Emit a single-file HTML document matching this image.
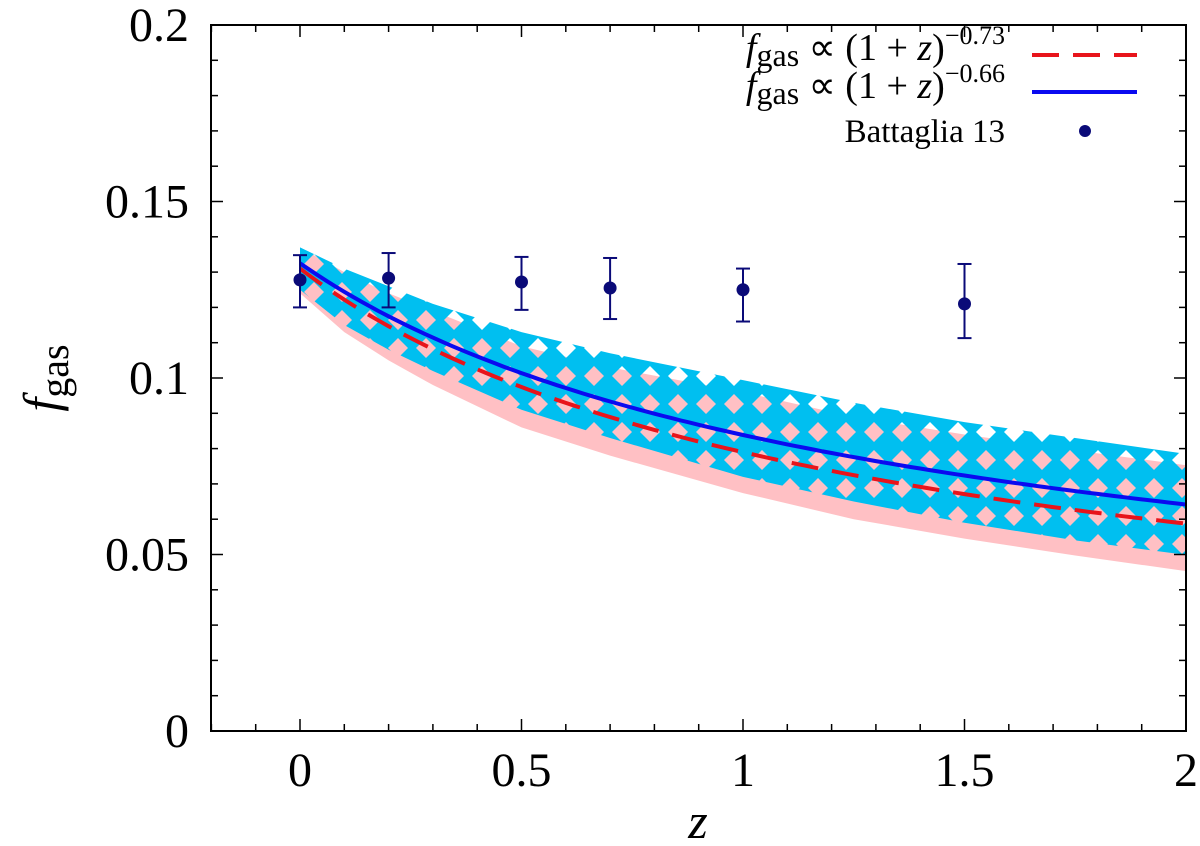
<!DOCTYPE html>
<html><head><meta charset="utf-8"><style>
body{margin:0;background:#fff;}
svg text{font-family:"Liberation Serif",serif;fill:#000;}
</style></head><body>
<svg id="chart" width="1200" height="841" viewBox="0 0 1200 841">
<defs>
<pattern id="dia" patternUnits="userSpaceOnUse" x="300" y="250" width="28" height="28">
<rect width="28" height="28" fill="white"/>
<polygon points="14,4 24,14 14,24 4,14" fill="black"/>
</pattern>
<mask id="m"><rect x="0" y="0" width="1200" height="841" fill="url(#dia)"/></mask>
<clipPath id="clip"><rect x="211" y="25" width="975" height="706"/></clipPath>
</defs>
<g id="plot" clip-path="url(#clip)"></g>
<rect x="211" y="25" width="975" height="706" fill="none" stroke="#000" stroke-width="2"/>
<g id="axes"></g>
<text x="698" y="838" font-size="50" font-style="italic" text-anchor="middle">z</text>
<text transform="translate(58,378) rotate(-90)" font-size="50" text-anchor="middle"><tspan font-style="italic">f</tspan><tspan font-size="40" dy="10">gas</tspan></text>
<g>
<text x="1005" y="60" font-size="38" text-anchor="end"><tspan font-style="italic">f</tspan><tspan font-size="32" dy="6">gas</tspan><tspan dy="-6"> ∝ (1 + </tspan><tspan font-style="italic">z</tspan><tspan>)</tspan><tspan font-size="26" dy="-16">−0.73</tspan></text>
<line x1="1032" y1="55" x2="1137" y2="55" stroke="#e8141b" stroke-width="4" stroke-dasharray="27,14"/>
<text x="1005" y="98" font-size="38" text-anchor="end"><tspan font-style="italic">f</tspan><tspan font-size="32" dy="6">gas</tspan><tspan dy="-6"> ∝ (1 + </tspan><tspan font-style="italic">z</tspan><tspan>)</tspan><tspan font-size="26" dy="-16">−0.66</tspan></text>
<line x1="1032" y1="92" x2="1137" y2="92" stroke="#0a0af0" stroke-width="4"/>
<text x="1005" y="142" font-size="33" text-anchor="end">Battaglia 13</text>
<circle cx="1085" cy="131" r="6" fill="#0a0a78"/>
</g>
</svg>
<script>
const bandZ=[0,0.1,0.2,0.3,0.5,0.7,1,1.25,1.5,1.75,2];
const pinkLo=[0.124,0.113,0.105,0.098,0.086,0.078,0.0674,0.060,0.0545,0.0497,0.0453];
const pinkHi=[0.137,0.130,0.124,0.119,0.109,0.103,0.096,0.089,0.084,0.0795,0.0753];
const cyanLo=[0.125,0.115,0.108,0.102,0.091,0.083,0.072,0.065,0.059,0.054,0.0499];
const cyanHi=[0.137,0.131,0.126,0.121,0.113,0.107,0.0994,0.093,0.0875,0.083,0.0785];
const ptZ=[0,0.2,0.5,0.7,1,1.5];
const ptF=[0.1278,0.1283,0.1272,0.1255,0.125,0.121];
const ptHi=[0.1348,0.1354,0.1343,0.134,0.131,0.1323];
const ptLo=[0.120,0.120,0.1193,0.1167,0.116,0.1113];
const fitNorm=[0.131,0.1325];
const fitExp=[-0.73,-0.66];
const xTicks=[0,0.5,1,1.5,2];
const xTickLabels=["0","0.5","1","1.5","2"];
const yTicks=[0,0.05,0.1,0.15,0.2];
const yTickLabels=["0","0.05","0.1","0.15","0.2"];

const X=z=>300+(z)*443;
const Y=f=>731-f*3530;
const NS="http://www.w3.org/2000/svg";
const plot=document.getElementById('plot'), axes=document.getElementById('axes');
function mk(tag,attrs,parent){const e=document.createElementNS(NS,tag);for(const k in attrs)e.setAttribute(k,attrs[k]);parent.appendChild(e);return e;}
function bandPath(lo,hi){let d='';bandZ.forEach((z,i)=>{d+=(i?'L':'M')+X(z)+','+Y(hi[i]);});for(let i=bandZ.length-1;i>=0;i--)d+='L'+X(bandZ[i])+','+Y(lo[i]);return d+'Z';}
const pink=mk('path',{d:bandPath(pinkLo,pinkHi),fill:'#ffc0c4'},plot);


const cyan=mk('path',{d:bandPath(cyanLo,cyanHi),fill:'#00bff0',mask:'url(#m)'},plot);


const colors=['#e8141b','#0a0af0'];
const names=['fit-line-073','fit-line-066'];
for(let k=0;k<2;k++){let d='';for(let i=0;i<=100;i++){const z=i*0.02;d+=(i?'L':'M')+X(z).toFixed(1)+','+Y(fitNorm[k]*Math.pow(1+z,fitExp[k])).toFixed(1);}
const p=mk('path',{d:d,fill:'none',stroke:colors[k],'stroke-width':4},plot);
if(k===0)p.setAttribute('stroke-dasharray','27,14');

}
ptZ.forEach((z,i)=>{const g=mk('g',{},plot);


const x=X(z);mk('line',{x1:x,x2:x,y1:Y(ptHi[i]),y2:Y(ptLo[i]),stroke:'#0a0a78','stroke-width':2},g);
mk('line',{x1:x-7,x2:x+7,y1:Y(ptHi[i]),y2:Y(ptHi[i]),stroke:'#0a0a78','stroke-width':2},g);
mk('line',{x1:x-7,x2:x+7,y1:Y(ptLo[i]),y2:Y(ptLo[i]),stroke:'#0a0a78','stroke-width':2},g);
mk('circle',{cx:x,cy:Y(ptF[i]),r:6.5,fill:'#0a0a78'},g);});
for(let i=-2;i<=20;i++){const z=i/10,x=X(z),len=(i%5===0)?12:7;
mk('line',{x1:x,x2:x,y1:731,y2:731-len,stroke:'#000','stroke-width':1.5},axes);
mk('line',{x1:x,x2:x,y1:25,y2:25+len,stroke:'#000','stroke-width':1.5},axes);}
for(let i=0;i<=20;i++){const y=Y(i/100),len=(i%5===0)?12:7;
mk('line',{x1:211,x2:211+len,y1:y,y2:y,stroke:'#000','stroke-width':1.5},axes);
mk('line',{x1:1186,x2:1186-len,y1:y,y2:y,stroke:'#000','stroke-width':1.5},axes);}
xTicks.forEach((v,i)=>{const t=mk('text',{x:X(v),y:786,'font-size':48,'text-anchor':'middle'},axes);t.textContent=xTickLabels[i];

});
yTicks.forEach((v,i)=>{const t=mk('text',{x:189,y:Y(v)+16,'font-size':48,'text-anchor':'end'},axes);t.textContent=yTickLabels[i];

});
</script>
</body></html>
